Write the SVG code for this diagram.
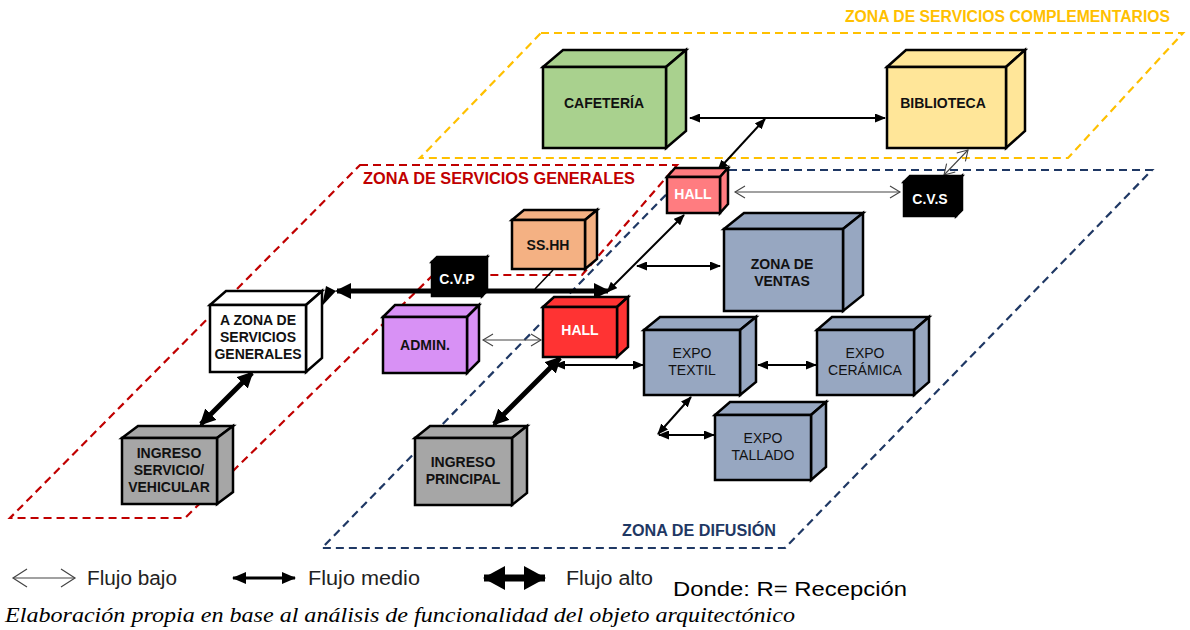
<svg xmlns="http://www.w3.org/2000/svg" width="1190" height="630" viewBox="0 0 1190 630">
<style>
.zone{fill:none;stroke-width:2.2;stroke-dasharray:8 5}
.box{stroke:#000;stroke-width:2.5;stroke-linejoin:miter}
.t{font-family:"Liberation Sans",Arial,sans-serif;font-size:14px;text-anchor:middle;fill:#111}
.b{font-weight:bold}
.w{fill:#fff}
.zl{font-family:"Liberation Sans",Arial,sans-serif;font-weight:bold}
.thin{stroke:#444;stroke-width:1.1;fill:none}
.med{stroke:#000;stroke-width:2;fill:none}
.thk{stroke:#000;stroke-width:5;fill:none}
.leg{font-family:"Liberation Sans",Arial,sans-serif;font-size:20px;fill:#222}
</style>
<defs>
<marker id="mThin" viewBox="0 0 10 12" refX="10" refY="6" markerWidth="10" markerHeight="12" markerUnits="userSpaceOnUse" orient="auto-start-reverse" overflow="visible"><path d="M0,0 L10,6 L0,12" fill="none" stroke="#444" stroke-width="1.1"/></marker>
<marker id="mMed" viewBox="0 0 11 9" refX="10" refY="4.5" markerWidth="11" markerHeight="9" markerUnits="userSpaceOnUse" orient="auto-start-reverse"><path d="M0,0 L11,4.5 L0,9 z" fill="#000"/></marker>
<marker id="mThk" viewBox="0 0 16 16" refX="14" refY="8" markerWidth="16" markerHeight="16" markerUnits="userSpaceOnUse" orient="auto-start-reverse"><path d="M0,0 L16,8 L0,16 z" fill="#000"/></marker>
<marker id="lThin" viewBox="0 0 14 18" refX="14" refY="9" markerWidth="14" markerHeight="18" markerUnits="userSpaceOnUse" orient="auto-start-reverse" overflow="visible"><path d="M0,0 L14,9 L0,18" fill="none" stroke="#444" stroke-width="1.2"/></marker>
<marker id="lMed" viewBox="0 0 14 12" refX="13" refY="6" markerWidth="14" markerHeight="12" markerUnits="userSpaceOnUse" orient="auto-start-reverse"><path d="M0,0 L14,6 L0,12 z" fill="#000"/></marker>
<marker id="lThk" viewBox="0 0 22 24" refX="21" refY="12" markerWidth="22" markerHeight="24" markerUnits="userSpaceOnUse" orient="auto-start-reverse"><path d="M0,0 L22,12 L0,24 z" fill="#000"/></marker>
</defs>

<g id="zones">
<polygon class="zone" stroke="#FFC000" points="541,33 1183,33 1068,158 420,158"/>
<polygon class="zone" stroke="#C00000" points="360,165 677,165 582,275 433,275 185,518 10,518"/>
<polygon class="zone" stroke="#1F3864" points="690,170 1152,170 785,548 322,548"/>
<text class="zl" x="845" y="22" font-size="16" fill="#FFC000" textLength="325" lengthAdjust="spacingAndGlyphs">ZONA DE SERVICIOS COMPLEMENTARIOS</text>
<text class="zl" x="363" y="184" font-size="16" fill="#C00000" textLength="272" lengthAdjust="spacingAndGlyphs">ZONA DE SERVICIOS GENERALES</text>
<text class="zl" x="622" y="536" font-size="16" fill="#1F3864" textLength="154" lengthAdjust="spacingAndGlyphs">ZONA DE DIFUSIÓN</text>
</g>

<g id="connectors">
<line class="med" x1="690" y1="118" x2="885" y2="118" marker-start="url(#mMed)" marker-end="url(#mMed)"/>
<line class="med" x1="765" y1="119" x2="718" y2="170" marker-start="url(#mMed)" marker-end="url(#mMed)"/>
<line class="thin" x1="735" y1="192" x2="900" y2="192" marker-start="url(#mThin)" marker-end="url(#mThin)"/>
<line class="thin" x1="968" y1="150" x2="944" y2="175" marker-start="url(#mThin)" marker-end="url(#mThin)"/>
<line class="med" x1="684" y1="215" x2="607" y2="292" marker-start="url(#mMed)" marker-end="url(#mMed)"/>
<line class="med" x1="637" y1="266" x2="720" y2="266" marker-start="url(#mMed)" marker-end="url(#mMed)"/>
<line class="thk" x1="337" y1="291" x2="608" y2="291" marker-start="url(#mThk)" marker-end="url(#mThk)"/>
<polygon points="322,306 326,286 336,291" fill="#000"/>
<line x1="553" y1="270" x2="535" y2="289" stroke="#000" stroke-width="1.5"/>
<line class="thin" x1="483" y1="340" x2="541" y2="340" marker-start="url(#mThin)" marker-end="url(#mThin)"/>
<line class="med" x1="555" y1="365" x2="643" y2="365" marker-start="url(#mMed)" marker-end="url(#mMed)"/>
<line class="thk" x1="560" y1="358" x2="494" y2="424" marker-start="url(#mThk)" marker-end="url(#mThk)"/>
<line class="thk" x1="252" y1="373" x2="201" y2="424" marker-start="url(#mThk)" marker-end="url(#mThk)"/>
<line class="med" x1="758" y1="365" x2="816" y2="365" marker-start="url(#mMed)" marker-end="url(#mMed)"/>
<line class="med" x1="691" y1="397" x2="658" y2="434" marker-start="url(#mMed)" marker-end="url(#mMed)"/>
<line class="med" x1="659" y1="435" x2="714" y2="435" marker-start="url(#mMed)" marker-end="url(#mMed)"/>
</g>

<g id="cafeteria">
<polygon class="box" fill="#A9D18E" points="543,67 563,50 686,50 666,67"/>
<polygon class="box" fill="#A9D18E" points="666,67 686,50 686,131 666,148"/>
<rect class="box" fill="#A9D18E" x="543" y="67" width="123" height="81"/>
<text class="t b" x="604" y="108">CAFETERÍA</text>
</g>

<g id="biblioteca">
<polygon class="box" fill="#FFE699" points="887,67 906,50 1025,50 1006,67"/>
<polygon class="box" fill="#FFE699" points="1006,67 1025,50 1025,131 1006,148"/>
<rect class="box" fill="#FFE699" x="887" y="67" width="119" height="81"/>
<text class="t b" x="943" y="108">BIBLIOTECA</text>
</g>

<g id="hall-top">
<polygon class="box" fill="#FF7C80" points="667,177 675,168 728,168 720,177"/>
<polygon class="box" fill="#FF7C80" points="720,177 728,168 728,204 720,213"/>
<rect class="box" fill="#FF7C80" x="667" y="177" width="53" height="36"/>
<text class="t b w" x="693" y="199" font-size="13">HALL</text>
</g>

<g id="cvs">
<polygon class="box" fill="#000" points="904,182 910,176 962,176 956,182"/>
<polygon class="box" fill="#000" stroke="#fff" stroke-width="1" points="956,182 962,176 962,210 956,216"/>
<rect class="box" fill="#000" x="904" y="182" width="52" height="34"/>
<text class="t b w" x="930" y="204">C.V.S</text>
</g>

<g id="sshh">
<polygon class="box" fill="#F4B183" points="512,220 524,210 597,210 585,220"/>
<polygon class="box" fill="#F4B183" points="585,220 597,210 597,259 585,269"/>
<rect class="box" fill="#F4B183" x="512" y="220" width="73" height="49"/>
<text class="t b" x="548" y="250">SS.HH</text>
</g>

<g id="cvp">
<polygon class="box" fill="#000" points="432,262 437,257 487,257 482,262"/>
<polygon class="box" fill="#000" points="482,262 487,257 487,291 482,296"/>
<rect class="box" fill="#000" x="432" y="262" width="50" height="34"/>
<text class="t b w" x="457" y="284">C.V.P</text>
</g>

<g id="a-zona-servicios">
<polygon class="box" fill="#fff" points="210,305 226,291 322,291 306,305"/>
<polygon class="box" fill="#fff" points="306,305 322,291 322,358 306,372"/>
<rect class="box" fill="#fff" x="210" y="305" width="96" height="67"/>
<text class="t b" x="258" y="325">A ZONA DE</text>
<text class="t b" x="258" y="342">SERVICIOS</text>
<text class="t b" x="258" y="359">GENERALES</text>
</g>

<g id="admin">
<polygon class="box" fill="#D891F5" points="383,317 395,305 479,305 467,317"/>
<polygon class="box" fill="#D891F5" points="467,317 479,305 479,361 467,373"/>
<rect class="box" fill="#D891F5" x="383" y="317" width="84" height="56"/>
<text class="t b" x="425" y="350">ADMIN.</text>
</g>

<g id="hall-main">
<polygon class="box" fill="#FF3333" points="543,307 554,297 628,297 617,307"/>
<polygon class="box" fill="#FF3333" points="617,307 628,297 628,347 617,357"/>
<rect class="box" fill="#FF3333" x="543" y="307" width="74" height="50"/>
<text class="t b w" x="580" y="335">HALL</text>
</g>

<g id="zona-ventas">
<polygon class="box" fill="#97A7C1" points="724,229 744,213 863,213 843,229"/>
<polygon class="box" fill="#97A7C1" points="843,229 863,213 863,295 843,311"/>
<rect class="box" fill="#97A7C1" x="724" y="229" width="119" height="82"/>
<text class="t b" x="782" y="269">ZONA DE</text>
<text class="t b" x="782" y="286">VENTAS</text>
</g>

<g id="expo-textil">
<polygon class="box" fill="#97A7C1" points="644,330 660,317 756,317 740,330"/>
<polygon class="box" fill="#97A7C1" points="740,330 756,317 756,382 740,395"/>
<rect class="box" fill="#97A7C1" x="644" y="330" width="96" height="65"/>
<text class="t" x="692" y="358" fill="#000">EXPO</text>
<text class="t" x="692" y="375" fill="#000">TEXTIL</text>
</g>

<g id="expo-ceramica">
<polygon class="box" fill="#97A7C1" points="817,330 832,317 929,317 914,330"/>
<polygon class="box" fill="#97A7C1" points="914,330 929,317 929,382 914,395"/>
<rect class="box" fill="#97A7C1" x="817" y="330" width="97" height="65"/>
<text class="t" x="865" y="358">EXPO</text>
<text class="t" x="865" y="375">CERÁMICA</text>
</g>

<g id="expo-tallado">
<polygon class="box" fill="#97A7C1" points="715,415 730,402 826,402 811,415"/>
<polygon class="box" fill="#97A7C1" points="811,415 826,402 826,467 811,480"/>
<rect class="box" fill="#97A7C1" x="715" y="415" width="96" height="65"/>
<text class="t" x="763" y="443">EXPO</text>
<text class="t" x="763" y="460">TALLADO</text>
</g>

<g id="ingreso-principal">
<polygon class="box" fill="#A6A6A6" points="415,438 430,426 527,426 512,438"/>
<polygon class="box" fill="#A6A6A6" points="512,438 527,426 527,493 512,505"/>
<rect class="box" fill="#A6A6A6" x="415" y="438" width="97" height="67"/>
<text class="t b" x="463" y="467">INGRESO</text>
<text class="t b" x="463" y="484">PRINCIPAL</text>
</g>

<g id="ingreso-servicio">
<polygon class="box" fill="#A6A6A6" points="122,438 138,426 233,426 217,438"/>
<polygon class="box" fill="#A6A6A6" points="217,438 233,426 233,492 217,504"/>
<rect class="box" fill="#A6A6A6" x="122" y="438" width="95" height="66"/>
<text class="t b" x="169" y="458">INGRESO</text>
<text class="t b" x="169" y="475">SERVICIO/</text>
<text class="t b" x="169" y="492">VEHICULAR</text>
</g>

<g id="legend">
<line class="thin" x1="13" y1="578" x2="75" y2="578" marker-start="url(#lThin)" marker-end="url(#lThin)"/>
<text class="leg" x="87" y="585" textLength="90" lengthAdjust="spacingAndGlyphs">Flujo bajo</text>
<line x1="233" y1="578" x2="295" y2="578" stroke="#000" stroke-width="3" marker-start="url(#lMed)" marker-end="url(#lMed)"/>
<text class="leg" x="308" y="585" textLength="112" lengthAdjust="spacingAndGlyphs">Flujo medio</text>
<line x1="484" y1="578" x2="545" y2="578" stroke="#000" stroke-width="7" marker-start="url(#lThk)" marker-end="url(#lThk)"/>
<text class="leg" x="566" y="585" textLength="87" lengthAdjust="spacingAndGlyphs">Flujo alto</text>
<text x="673" y="596" font-family="'Liberation Sans',Arial,sans-serif" font-size="21" fill="#000" textLength="234" lengthAdjust="spacingAndGlyphs">Donde: R= Recepción</text>
<text x="5" y="622" font-family="'Liberation Serif','Times New Roman',serif" font-style="italic" font-size="20" fill="#000" textLength="790" lengthAdjust="spacingAndGlyphs">Elaboración propia en base al análisis de funcionalidad del objeto arquitectónico</text>
</g>
</svg>
